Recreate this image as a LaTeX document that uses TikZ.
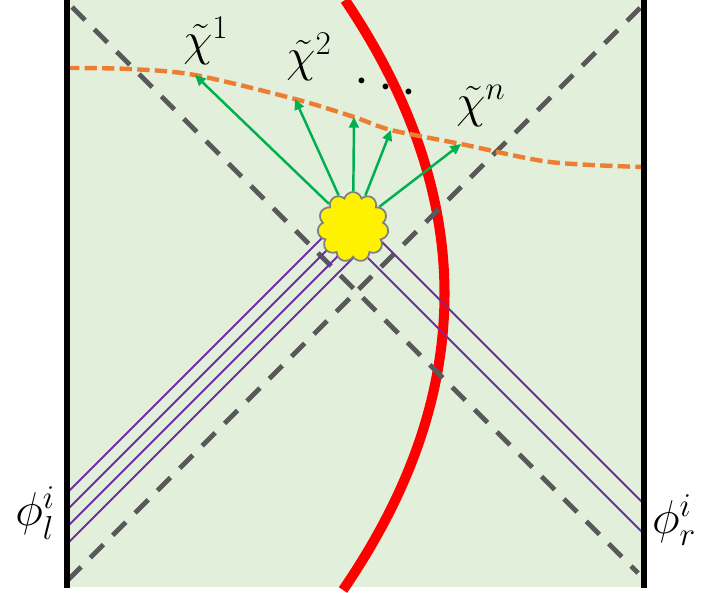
\RequirePackage{fix-cm}
\documentclass[tikz,border=0pt]{standalone}
\usepackage{amsmath}
\usepackage{amssymb}
\usetikzlibrary{arrows.meta,shapes.symbols}

\definecolor{bulkgreen}{RGB}{226,239,218}
\definecolor{sliceorange}{RGB}{237,125,49}
\definecolor{raygreen}{RGB}{0,176,80}
\definecolor{quantapurple}{RGB}{112,48,160}
\definecolor{horizongray}{RGB}{89,89,89}

\begin{document}
\begin{tikzpicture}[x=0.02cm, y=-0.02cm,
    horizon/.style={horizongray, line width=2.8pt, dash pattern=on 10.5pt off 7.5pt},
    slice/.style={sliceorange, line width=2.5pt, dash pattern=on 7pt off 3pt},
    ray/.style={raygreen, line width=1.4pt, -{Triangle[length=6pt,width=5.5pt]}},
    quanta/.style={quantapurple, line width=1.1pt},
    wall/.style={black, line width=3.5pt},
    lbl/.style={font=\fontsize{27}{31}\selectfont, inner sep=0pt}]
    \useasboundingbox (0,0) rectangle (702,592);
    \fill[bulkgreen] (67,0) rectangle (644,587);

    % red curve
    \draw[red, line width=5.7pt] (345,0) .. controls (478,197) and (478,393) .. (343,590);

    % horizons
    \draw[horizon] (72,7) -- (638,573);
    \draw[horizon] (68,580) -- (641,7);

    % slice and its points
    \coordinate (w0) at (67,68);
    \coordinate (t1) at (195,75);
    \coordinate (t2) at (295,99);
    \coordinate (t3) at (354,117);
    \coordinate (t4) at (391,130);
    \coordinate (t5) at (461,144);
    \coordinate (w1) at (644,167);
    \draw[slice] plot[smooth] coordinates
        {(w0) (130,69) (t1) (t2) (t3) (t4) (t5) (550,162) (w1)};

    % quanta from the walls
    \foreach \k/\y in {1/492,2/509,3/526,4/543}{
        \coordinate (l\k) at (68,\y);
        \draw[quanta] (l\k) -- ++(285,-285);
    }
    \foreach \k/\y in {1/504,2/534}{
        \coordinate (r\k) at (644,\y);
        \draw[quanta] (r\k) -- ++(-276,-276);
    }

    \node[cloud, cloud puffs=11, aspect=1, fill=yellow, draw=gray, line width=1pt,
          minimum width=1.42cm, minimum height=1.4cm, inner sep=0pt] (blob) at (353,227) {};

    \foreach \t in {t1,t2,t3,t4,t5}
        \draw[ray] (blob) -- (\t);

    % walls
    \draw[wall] (67,0) -- (67,588);
    \draw[wall] (644,0) -- (644,588);

    \node[lbl] (chi1) at (206,41) {$\tilde{\chi}^{1}$};
    \node[lbl] (chi2) at (309,57) {$\tilde{\chi}^{2}$};
    \node[lbl] (chin) at (481,106) {$\tilde{\chi}^{n}$};
    \node[lbl, font=\fontsize{31}{35}\selectfont, rotate=-13] (dots) at (390,89) {$\cdots$};
    \node[lbl] (phil) at (35,513) {$\phi_{l}^{i}$};
    \node[lbl] (phir) at (674,520) {$\phi_{r}^{i}$};
\end{tikzpicture}
\end{document}
